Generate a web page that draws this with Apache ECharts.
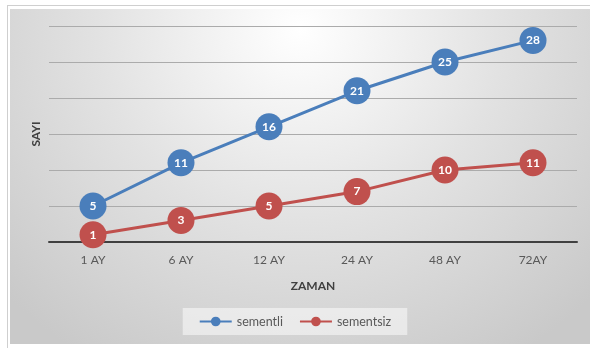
<!DOCTYPE html>
<html>
<head>
<meta charset="utf-8">
<script src="https://cdn.jsdelivr.net/npm/echarts@6/dist/echarts.min.js"></script>
<style>
    body { margin: 0; background: #ffffff; }
    #frame { position: absolute; left: 7px; top: 5px; width: 583px; height: 343px;
        border-left: 1px solid #cfcfcf; border-top: 1px solid #cfcfcf; }
    #bg { position: absolute; left: 10px; top: 9px; width: 580px; height: 335px;
        background: radial-gradient(ellipse 70% 115% at 50% 6%, #ffffff 0%, #e2e2e2 50%, #c9c9c9 100%); }
    #main { position: absolute; left: 0; top: 0; width: 590px; height: 348px; }
</style>
</head>
<body>
<div id="frame"></div>
<div id="bg"></div>
<div id="main"></div>
<script>
var months = ['1 AY', '6 AY', '12 AY', '24 AY', '48 AY', '72AY'];
var sementli = [5, 11, 16, 21, 25, 28];
var sementsiz = [1, 3, 5, 7, 10, 11];

var chart = echarts.init(document.getElementById('main'));
var font = 'Lato, "Open Sans", sans-serif';
var option = {
    textStyle: { fontFamily: font },
    grid: { left: 49, right: 13, top: 26, bottom: 106 },
    legend: {
        left: 'center',
        bottom: 13,
        itemWidth: 32,
        itemHeight: 12,
        itemGap: 16,
        padding: [7, 16],
        backgroundColor: 'rgba(255,255,255,0.5)',
        textStyle: { color: '#595959', fontSize: 12.5, fontFamily: font },
        data: ['sementli', 'sementsiz']
    },
    xAxis: {
        type: 'category',
        data: months,
        name: 'ZAMAN',
        nameLocation: 'middle',
        nameGap: 38,
        nameTextStyle: { color: '#404040', fontWeight: 'bold', fontSize: 12 },
        axisLine: { lineStyle: { color: '#404040', width: 2 } },
        axisTick: { show: false },
        axisLabel: { color: '#595959', fontSize: 12, margin: 12 }
    },
    yAxis: {
        type: 'value',
        min: 0,
        max: 30,
        interval: 5,
        name: 'SAYI',
        nameLocation: 'middle',
        nameRotate: 90,
        nameGap: 7,
        nameTextStyle: { color: '#404040', fontWeight: 'bold', fontSize: 12 },
        axisLabel: { show: false },
        axisLine: { show: false },
        axisTick: { show: false },
        splitLine: { lineStyle: { color: '#ababab', width: 1 } }
    },
    series: [
        {
            name: 'sementli',
            type: 'line',
            data: sementli,
            symbol: 'circle',
            symbolSize: 27,
            color: '#4a7ebb',
            lineStyle: { width: 3 },
            label: { show: true, position: 'inside', color: '#ffffff', fontWeight: 'bold', fontSize: 12 }
        },
        {
            name: 'sementsiz',
            type: 'line',
            data: sementsiz,
            symbol: 'circle',
            symbolSize: 27,
            color: '#c0504d',
            lineStyle: { width: 3 },
            label: { show: true, position: 'inside', color: '#ffffff', fontWeight: 'bold', fontSize: 12 }
        }
    ]
};
chart.setOption(option);
window.addEventListener('resize', function () {
    chart.resize();
});
</script>
</body>
</html>
